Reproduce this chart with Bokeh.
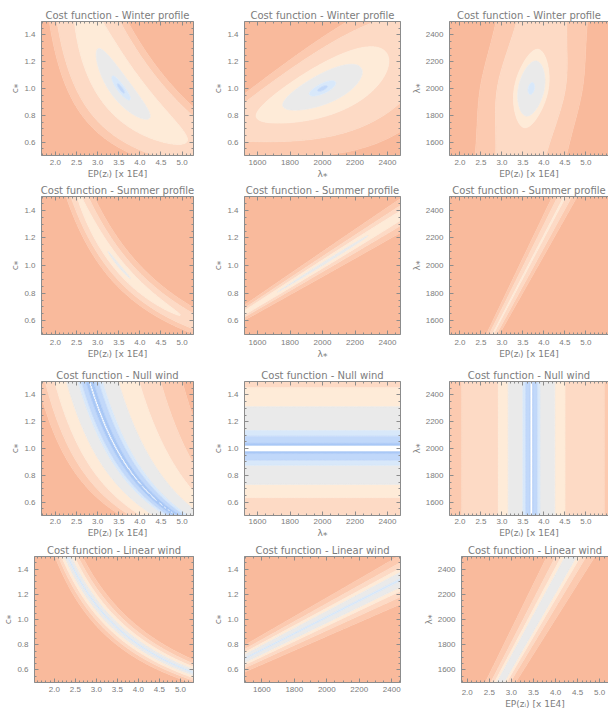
import numpy as np
from bokeh.plotting import figure
from bokeh.layouts import column, row
from bokeh.models import LinearAxis, FixedTicker, Range1d, PrintfTickFormatter
from bokeh.embed import file_html
from bokeh.resources import INLINE

# ---------------- data ----------------
PALETTE = ["#FFFFFF", "#A9C8F6", "#C1D8FA", "#D8E8FA", "#EAEAEA",
           "#FEEBD8", "#FDDAC5", "#FCCAB0", "#F9BA9C"]

TITLES = ["Cost function - Winter profile", "Cost function - Summer profile",
          "Cost function - Null wind", "Cost function - Linear wind"]

EP_TICKS = [2.0, 2.5, 3.0, 3.5, 4.0, 4.5, 5.0]
C_TICKS = [0.6, 0.8, 1.0, 1.2, 1.4]
LAM_TICKS = [1600, 1800, 2000, 2200, 2400]

EP_LABEL = "EP(zᵢ) [x 1E4]"
C_LABEL = "c⁎"
LAM_LABEL = "λ⁎"

EP_RANGE = [1.67, 5.27]
EP_RANGE_BL = [1.53, 5.31]
EP_RANGE_C3 = [1.75, 5.54]
EP_RANGE_BR = [1.87, 5.20]
LAM_RANGE = [1520, 2480]
LAM_RANGE_BM = [1493, 2454]
C_RANGE = [0.5, 1.5]
LAMY_RANGE = [1500, 2500]

# cost-function shapes: [x0, y0, ux, uy, vx, vy, fx, fy, skew, vsat]
W1_LOG = [1, 1]; W1_SHAPE = [3.55, 1.0, 1.0, 0.6, 0.0, 0.333, 0.0, 0.0, 0.5, 0.0]
W1_FIRST = 2;    W1_LEVELS = [0.012, 0.03, 0.087, 0.18, 0.30, 0.36]
W2_LOG = [0, 0]; W2_SHAPE = [2000, 1.0, -1.0, 1.0, 0.98, 0.0, 1.6, 0.0, 0.3, 0.0]
W2_FIRST = 2;    W2_LEVELS = [0.015, 0.04, 0.12, 0.2, 0.33, 0.43]
W3_LOG = [0, 0]; W3_SHAPE = [3.7, 2000, 1.0, -0.27, 0.0, 0.9, 0.0, 0.0, 0.0, 0.2]
W3_FIRST = 3;    W3_LEVELS = [0.02, 0.084, 0.11, 0.22, 0.33]

S1_LOG = [1, 1]; S1_SHAPE = [3.5, 1.0, 1.0, 0.77, 0.0, 0.1, 0.0, 0.0, 0.0, 0.0]
S1_FIRST = 4;    S1_LEVELS = [0.01, 0.045, 0.09, 0.135]
S2_LOG = [0, 0]; S2_SHAPE = [2000, 1.01, -1.45, 1.0, 0.07, 0.0, 1.6, 0.0, 0.0, 0.0]
S2_FIRST = 4;    S2_LEVELS = [0.01, 0.03, 0.055, 0.09]
S3_LOG = [0, 0]; S3_SHAPE = [3.64, 2000, 1.0, -0.945, 0.0, 0.0, 0.0, 1.25, 0.0, 0.0]
S3_FIRST = 5;    S3_LEVELS = [0.005, 0.035, 0.062]

N1_LOG = [1, 1]; N1_SHAPE = [3.44, 1.0, 1.0, 0.5, 0.0, 0.0, 0.0, 0.5, 0.0, 0.0]
N1_FIRST = 0;    N1_LEVELS = [0.0025, 0.025, 0.06, 0.085, 0.18, 0.29, 0.39, 0.48]
N2_LOG = [0, 1]; N2_SHAPE = [2000, 1.0, 0.0, 1.0, 0.0, 0.0, 0.0, 0.0, 0.24, 0.0]
N2_FIRST = 0;    N2_LEVELS = [0.018, 0.038, 0.09, 0.13, 0.29, 0.41]
N3_LOG = [1, 0]; N3_SHAPE = [3.70, 2000, 1.0, 0.0, 0.0, 0.0, 0.0, 0.0, 0.45, 0.0]
N3_FIRST = 0;    N3_LEVELS = [0.006, 0.009, 0.037, 0.055, 0.15, 0.215, 0.46]

L1_LOG = [1, 1]; L1_SHAPE = [3.30, 1.0, 1.0, 0.87, 0.0, 0.0, 0.0, 0.0, 0.0, 0.0]
L1_FIRST = 3;    L1_LEVELS = [0.006, 0.035, 0.065, 0.1, 0.14]
L2_LOG = [0, 0]; L2_SHAPE = [2000, 1.02, -1.28, 1.0, 0.0, 0.0, 1.2, 0.0, 0.0, 0.0]
L2_FIRST = 3;    L2_LEVELS = [0.006, 0.045, 0.07, 0.105, 0.15]
L3_LOG = [0, 0]; L3_SHAPE = [3.55, 2000, 1.0, -0.9, 0.0, 0.0, 0.0, 0.9, 0.0, 0.0]
L3_FIRST = 4;    L3_LEVELS = [0.03, 0.05, 0.08, 0.125]

# ---------------- layout (page origin at 0,0) ----------------
ROW_H = [181, 181, 178, 171]
ROW_TOP = [21, 15, 19, 16]
ROW_BOT = [24, 28, 23, 17]
ROW_XSTD = [4, 5, 3, 4]
COL_W = [210, 198, 200]
COL_L = [41, 31, 40]
COL_R = [17, 8, 0]

TXC = "#7c7c7c"
AXC = "#8c8c8c"


def cost_field(xs, ys, logs, shape):
    x0, y0, ux, uy, vx, vy, fx, fy, k, vs = shape
    gx, gy = np.meshgrid(xs, ys)
    X = np.log(gx / x0) if logs[0] else (gx - x0) / x0
    Y = np.log(gy / y0) if logs[1] else (gy - y0) / y0
    u = (ux * X + uy * Y) / (1.0 + fx * X + fy * Y)
    if k > 0:
        u = (np.exp(2 * k * u) - 1.0) / (2 * k)
    v = vx * X + vy * Y
    vv = v * v if vs <= 0 else v * v / (1.0 + (v / vs) ** 2)
    return np.sqrt(u * u + vv)


def style_axis(ax, labels=True, standoff=4):
    ax.axis_line_color = AXC
    ax.major_tick_line_color = AXC
    ax.minor_tick_line_color = AXC
    ax.major_tick_in = 4
    ax.major_tick_out = 0
    ax.minor_tick_in = 2
    ax.minor_tick_out = 0
    ax.major_label_standoff = standoff if labels else 0
    ax.axis_label_standoff = 1
    ax.major_label_text_font = "Liberation Sans"
    ax.major_label_text_font_size = "8px" if labels else "0px"
    ax.major_label_text_color = TXC if labels else None
    ax.axis_label_text_font = "DejaVu Sans"
    ax.axis_label_text_font_size = "9px"
    ax.axis_label_text_font_style = "normal"
    ax.axis_label_text_color = TXC


def axis_spec(kind):
    if kind == "ep":
        return EP_TICKS, list(np.round(np.arange(1.5, 5.61, 0.1), 2)), "%.1f"
    if kind == "c":
        return C_TICKS, list(np.round(np.arange(0.5, 1.51, 0.05), 3)), "%.1f"
    return LAM_TICKS, list(np.arange(1500, 2501, 50)), "%d"


def panel(title, xr, yr, xkind, ykind, xlabel, ylabel, logs, shape, first, levels,
          w, h, bl, br, bt, bb, xstd, right_axis=True):
    p = figure(width=w, height=h, x_range=Range1d(*xr), y_range=Range1d(*yr),
               output_backend="svg", toolbar_location=None,
               min_border_left=bl, min_border_right=br,
               min_border_top=bt, min_border_bottom=bb,
               x_axis_type=None, y_axis_type=None, title=title)
    p.outline_line_color = None
    p.background_fill_color = "white"
    p.title.text_font = "DejaVu Sans"
    p.title.text_font_size = "10px"
    p.title.text_font_style = "normal"
    p.title.text_color = TXC
    p.title.align = "center"
    p.title.standoff = 1

    xs = np.linspace(xr[0], xr[1], 181)
    ys = np.linspace(yr[0], yr[1], 161)
    z = cost_field(xs, ys, logs, shape)
    lv = [-1.0] + list(levels) + [1.0e3]
    cols = PALETTE[first:first + len(levels) + 1]
    lcols = [cols[0]] + cols
    p.contour(xs, ys, z, lv, fill_color=cols, line_color=lcols[:len(lv)], line_width=0.8)

    xt_major, xt_minor, xfmt = axis_spec(xkind)
    yt_major, yt_minor, yfmt = axis_spec(ykind)
    xt = FixedTicker(ticks=xt_major, minor_ticks=xt_minor)
    yt = FixedTicker(ticks=yt_major, minor_ticks=yt_minor)

    below = LinearAxis(ticker=xt, formatter=PrintfTickFormatter(format=xfmt),
                       axis_label=xlabel)
    style_axis(below, True, xstd)
    p.add_layout(below, "below")
    left = LinearAxis(ticker=yt, formatter=PrintfTickFormatter(format=yfmt),
                      axis_label=ylabel)
    style_axis(left, True, 6)
    p.add_layout(left, "left")
    above = LinearAxis(ticker=xt)
    style_axis(above, False)
    p.add_layout(above, "above")
    if right_axis:
        right = LinearAxis(ticker=yt)
        style_axis(right, False)
        p.add_layout(right, "right")
    return p


rows = []
specs = [
    [(W1_LOG, W1_SHAPE, W1_FIRST, W1_LEVELS), (W2_LOG, W2_SHAPE, W2_FIRST, W2_LEVELS),
     (W3_LOG, W3_SHAPE, W3_FIRST, W3_LEVELS)],
    [(S1_LOG, S1_SHAPE, S1_FIRST, S1_LEVELS), (S2_LOG, S2_SHAPE, S2_FIRST, S2_LEVELS),
     (S3_LOG, S3_SHAPE, S3_FIRST, S3_LEVELS)],
    [(N1_LOG, N1_SHAPE, N1_FIRST, N1_LEVELS), (N2_LOG, N2_SHAPE, N2_FIRST, N2_LEVELS),
     (N3_LOG, N3_SHAPE, N3_FIRST, N3_LEVELS)],
    [(L1_LOG, L1_SHAPE, L1_FIRST, L1_LEVELS), (L2_LOG, L2_SHAPE, L2_FIRST, L2_LEVELS),
     (L3_LOG, L3_SHAPE, L3_FIRST, L3_LEVELS)],
]

for r in range(4):
    h, bt, bb, xs = ROW_H[r], ROW_TOP[r], ROW_BOT[r], ROW_XSTD[r]
    last = (r == 3)
    s1, s2, s3 = specs[r]
    p1 = panel(TITLES[r], EP_RANGE_BL if last else EP_RANGE, C_RANGE, "ep", "c",
               None if last else EP_LABEL, C_LABEL, *s1,
               COL_W[0], h, 33 if last else COL_L[0], COL_R[0], bt, bb, xs)
    p2 = panel(TITLES[r], LAM_RANGE_BM if last else LAM_RANGE, C_RANGE, "lam", "c",
               None if last else LAM_LABEL, C_LABEL, *s2,
               COL_W[1], h, COL_L[1], COL_R[1], bt, bb, xs)
    if last:
        p3 = panel(TITLES[r], EP_RANGE_BR, LAMY_RANGE, "ep", "lam", EP_LABEL, LAM_LABEL,
                   *s3, COL_W[2], h, 53, 0, 15, 27, 7, right_axis=False)
    else:
        p3 = panel(TITLES[r], EP_RANGE_C3, LAMY_RANGE, "ep", "lam", EP_LABEL, LAM_LABEL,
                   *s3, COL_W[2], h, COL_L[2], COL_R[2], bt, bb, xs, right_axis=False)
    rows.append(row(p1, p2, p3))

layout = column(*rows)
open("out.html", "w").write(file_html(layout, INLINE))
